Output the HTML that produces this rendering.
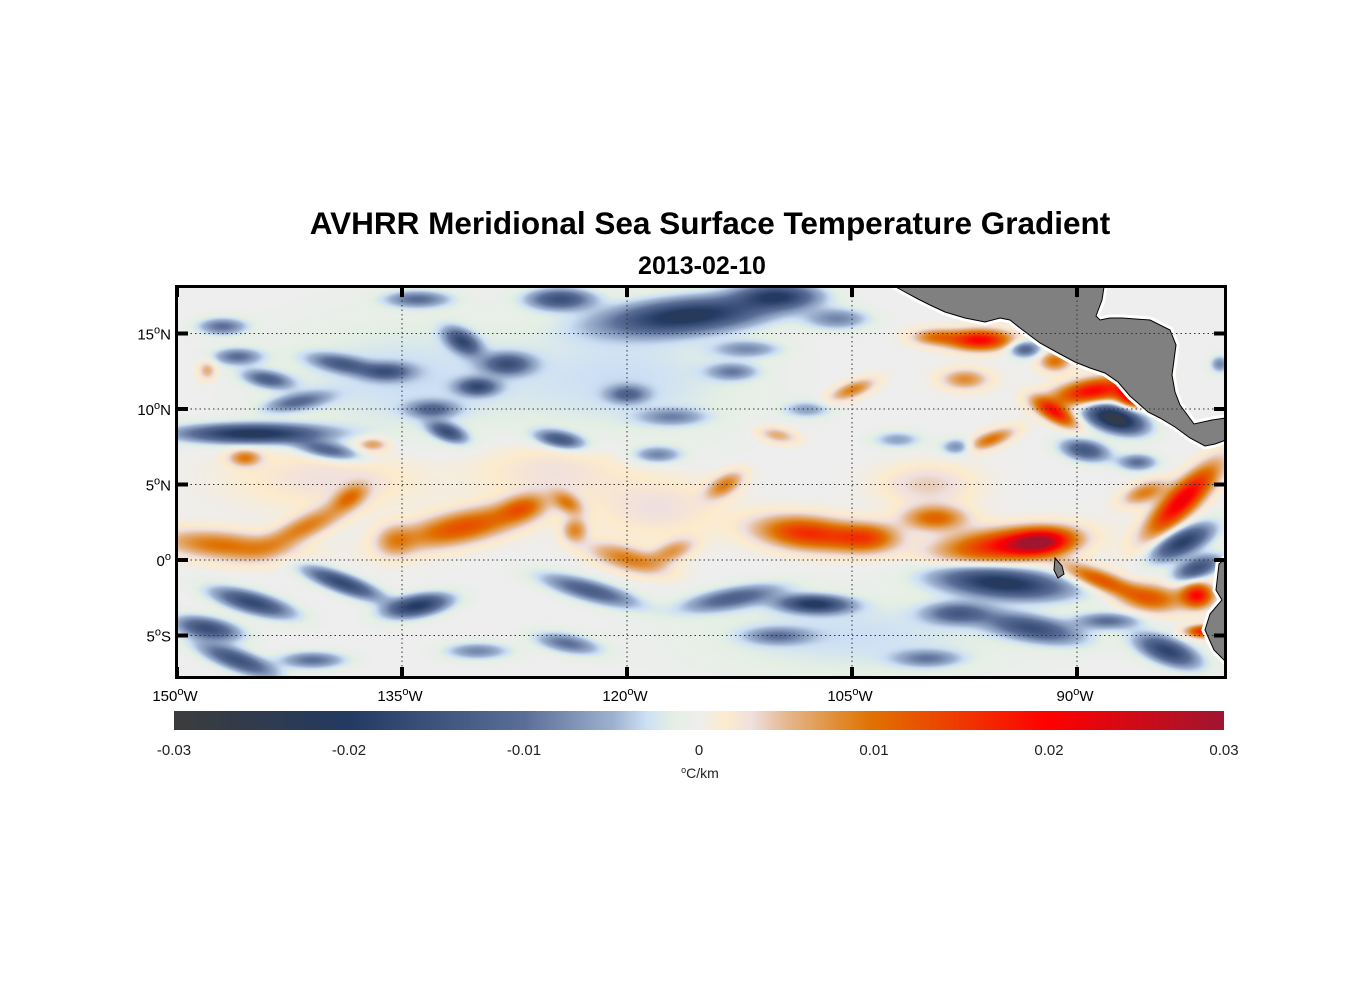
<!DOCTYPE html>
<html><head><meta charset="utf-8">
<style>
html,body{margin:0;padding:0;background:#fff;}
#wrap{position:relative;width:1356px;height:1000px;overflow:hidden;font-family:"Liberation Sans",Arial,sans-serif;}
.t{position:absolute;white-space:nowrap;color:#000;}
</style></head>
<body>
<div id="wrap">
<div class="t" style="left:0;width:1420px;text-align:center;top:205px;font-size:31.5px;font-weight:bold;">AVHRR Meridional Sea Surface Temperature Gradient</div>
<div class="t" style="left:0;width:1404px;text-align:center;top:252px;font-size:25px;font-weight:bold;">2013-02-10</div>
<canvas id="map" width="1050" height="392" style="position:absolute;left:176px;top:286px;"></canvas>
<svg id="ov" width="1356" height="1000" style="position:absolute;left:0;top:0;"></svg>
<canvas id="cb" width="1050" height="19" style="position:absolute;left:174px;top:711px;"></canvas>
</div>
<script>
// Data: features of the gradient field (lon in degrees W, lat in degrees N, value in °C/km)
const featLon = [147,141.5,138.5,135.5,131,127,124,123.5,120,117,113.5,108,104,99.5,95,92.5,88.5,85,82,81.5,83,85.5,96.5,99.5,89,86.2,91.5,95.8,97.5,105,145.5,137,148,110,91.5,100,140,125,118,
 145,140,132,116,124.5,131,128,130,124.5,139,147,134,142,145,139,134,148,146,141,124,122.5,113,107,95,93,88,84,83,87.5,89.5,93.5,98,117,112,120,106,80.5,100,120,135,105,110,108,
 144,146,136,133,118,108,102,113,98,110,130,86,82];
const featLat = [1.0,2.2,4.2,1.3,2.2,3.5,3.8,2,0.1,0.6,5,1.8,1.5,2.8,1,1.2,-1.3,-2.5,-2.3,-4.7,4,4.5,14.6,14.8,11.2,11.0,9.8,8,12,11.3,6.8,7.7,12.6,8.3,13.2,5,5.5,6,3.5,
 8.4,7.3,8.5,16.2,17.3,14.5,13,11.5,8,13,15.5,17.3,10.5,-2.8,-1.5,-3,-4.5,-6.6,-6.6,-5.5,-2,-2.5,-3,-1.5,-4.5,-4,-6,1.2,9.4,7.3,14,7.5,9.5,14,11,16,13,-6.5,12,12,-5,17.5,-2.8,
 12,13.5,12.5,10,7,10,8,12.5,-3.5,-5,-6,6.5,-0.5];
const featVal = [0.010,0.009,0.008,0.006,0.013,0.009,0.008,0.008,0.009,0.007,0.009,0.016,0.012,0.011,0.017,0.022,0.013,0.011,0.019,0.018,0.022,0.009,0.02,0.009,0.02,0.027,0.018,0.01,0.008,0.009,0.009,0.007,0.006,0.006,0.01,0.004,0.003,0.003,0.003,
 -0.022,-0.012,-0.015,-0.022,-0.015,-0.016,-0.014,-0.015,-0.014,-0.012,-0.01,-0.01,-0.01,-0.017,-0.017,-0.02,-0.016,-0.015,-0.01,-0.01,-0.013,-0.012,-0.01,-0.022,-0.015,-0.01,-0.018,-0.019,-0.028,-0.014,-0.012,-0.008,-0.007,-0.007,-0.01,-0.008,-0.008,-0.008,-0.003,-0.003,-0.003,-0.018,-0.012,
 -0.012,-0.01,-0.012,-0.01,-0.008,-0.006,-0.006,-0.008,-0.012,-0.008,-0.008,-0.01,-0.015];
const featLen = [4,3,1.2,1.2,4,1.5,0.6,0.8,2.5,1.5,1.3,3.2,2,2,4,2,2.5,2,1,0.4,3,1.5,2,1.5,2.5,1,1.5,1.6,1.5,1.5,1,1,0.6,1.3,1,3,6,5,4,
 4.5,2,1.2,5,2,1.2,1.5,1.2,1.5,2,1.5,2,2,2.5,2.5,2,2,2.5,2,2,3,3,2,4,3,2,2,2,1.8,1.5,1,1,2,2,1.2,2,0.6,2,8,8,10,2.5,2,
 1.5,1.5,1.5,1.5,1.5,1.5,1.5,1.5,2,2,2,1.2,1.5];
const featWid = [0.7,0.6,0.5,0.8,0.8,0.6,0.8,0.6,0.6,0.5,0.5,0.8,0.7,0.6,0.8,0.6,0.5,0.7,0.6,0.9,0.7,0.5,0.5,0.4,0.6,0.6,0.45,0.4,0.5,0.4,0.4,0.35,0.5,0.4,0.5,1,1.5,1.5,1.5,
 0.45,0.4,0.4,0.8,0.5,0.5,0.5,0.4,0.4,0.4,0.4,0.4,0.4,0.5,0.45,0.5,0.5,0.5,0.4,0.45,0.5,0.5,0.4,0.7,0.6,0.4,0.6,0.6,0.6,0.5,0.4,0.4,0.4,0.4,0.4,0.5,0.4,0.4,3,3,2,0.6,0.4,
 0.4,0.4,0.4,0.4,0.4,0.4,0.4,0.4,0.5,0.4,0.4,0.4,0.5];
const featAng = [-5,25,30,0,12,15,60,0,-15,20,30,-5,0,0,5,5,-20,-5,0,90,45,20,0,0,10,0,-30,20,0,20,0,0,0,-10,0,0,0,0,0,
 0,-10,-20,5,0,-30,0,0,-10,-10,0,0,10,-15,-20,10,-10,-20,0,-10,-15,10,0,-5,-10,0,-20,25,-15,-10,0,0,0,0,0,0,0,0,0,0,0,0,0,
 -10,0,0,0,0,0,0,0,0,0,0,0,20];
// Colormap
const cmapVal = [-0.03,-0.02,-0.01,-0.005,-0.003,-0.0015,0,0.0015,0.003,0.005,0.008,0.01,0.02,0.03];
const cmapCol = ["#3c3c3c","#233a62","#5a6e98","#9cb0cf","#cde0f5","#e4efe4","#eeeeee","#fdebcc","#efe0df","#e5b890","#e08c30","#e07000","#ff0000","#a01530"];
const lonTicks = [150,135,120,105,90];
const latTicks = [15,10,5,0,-5];
const cbTicks = [-0.03,-0.02,-0.01,0,0.01,0.02,0.03];

const X0=177, Y0=560, PXD=15, PYD=15.1, WSCALE=1.3;
const xOf = lonW => X0 + (150-lonW)*PXD;
const yOf = lat => Y0 - lat*PYD;
function hex(h){return [parseInt(h.slice(1,3),16),parseInt(h.slice(3,5),16),parseInt(h.slice(5,7),16)];}
const cmapRGB = cmapCol.map(hex);
function color(v){
  if(v<=cmapVal[0]) return cmapRGB[0];
  for(let i=1;i<cmapVal.length;i++){ if(v<=cmapVal[i]){const t=(v-cmapVal[i-1])/(cmapVal[i]-cmapVal[i-1]);const a=cmapRGB[i-1],b=cmapRGB[i];return [a[0]+(b[0]-a[0])*t,a[1]+(b[1]-a[1])*t,a[2]+(b[2]-a[2])*t];}}
  return cmapRGB[cmapRGB.length-1];
}
// heatmap
(function(){
  const c=document.getElementById('map'),ctx=c.getContext('2d');
  const W=c.width,H=c.height,img=ctx.createImageData(W,H);
  const n=featLon.length, cs=[],sn=[];
  for(let k=0;k<n;k++){const a=featAng[k]*Math.PI/180;cs.push(Math.cos(a));sn.push(Math.sin(a));}
  for(let py=0;py<H;py++){
    const lat=(Y0-(286+py))/PYD;
    for(let px=0;px<W;px++){
      const e=((176+px)-X0)/PXD-150;
      let v=0;
      for(let k=0;k<n;k++){
        const dx=e+featLon[k], dy=lat-featLat[k];
        if(Math.abs(dx)>featLen[k]*3+1||Math.abs(dy)>featLen[k]*3+1) continue;
        const u=dx*cs[k]+dy*sn[k], w=-dx*sn[k]+dy*cs[k];
        const ww=featWid[k]*WSCALE;
        v+=featVal[k]*Math.exp(-(u*u/(featLen[k]*featLen[k])+w*w/(ww*ww)));
      }
      const col=color(v), i=(py*W+px)*4;
      img.data[i]=col[0];img.data[i+1]=col[1];img.data[i+2]=col[2];img.data[i+3]=255;
    }
  }
  ctx.putImageData(img,0,0);
})();
// colorbar
(function(){
  const c=document.getElementById('cb'),ctx=c.getContext('2d');
  for(let px=0;px<c.width;px++){const v=-0.03+0.06*px/(c.width-1);const col=color(v);ctx.fillStyle='rgb('+col.map(Math.round).join(',')+')';ctx.fillRect(px,0,1,c.height);}
})();
// overlay
(function(){
  const svg=document.getElementById('ov'),NS='http://www.w3.org/2000/svg';
  function mk(tag,attrs,name){const el=document.createElementNS(NS,tag);for(const k in attrs)el.setAttribute(k,attrs[k]);
    
    
    svg.appendChild(el);return el;}
  const ca='896,287 905,292 918,299 930,305 945,312 965,318 985,322 1000,318 1010,320 1020,328 1040,343 1060,354 1075,362 1090,368 1105,373 1118,382 1130,396 1138,403 1148,412 1160,418 1175,427 1190,438 1205,446 1215,444 1226,440 1226,418 1212,420 1194,424 1180,405 1175,392 1172,375 1176,345 1170,330 1150,320 1122,318 1110,318 1100,320 1096,316 1102,300 1104,287';
  mk('polygon',{points:ca,fill:'#808080',stroke:'#fff','stroke-width':7},'central-america-land-halo');
  mk('polygon',{points:ca,fill:'#808080',stroke:'#000','stroke-width':1},'central-america-land');
  const sa='1226,558 1219,564 1216,590 1222,600 1210,614 1205,630 1214,650 1226,662';
  mk('polygon',{points:sa,fill:'#808080',stroke:'#fff','stroke-width':7},'south-america-land-halo');
  mk('polygon',{points:sa,fill:'#808080',stroke:'#000','stroke-width':1},'south-america-land');
  mk('polygon',{points:'1055,558 1062,566 1064,574 1058,578 1054,570',fill:'#808080',stroke:'#000','stroke-width':1},'galapagos-island');
  lonTicks.forEach(l=>{const x=xOf(l);
    mk('line',{x1:x,y1:287,x2:x,y2:677,stroke:'#333','stroke-width':1,'stroke-dasharray':'1.5,3'},'lon-gridline');
    mk('line',{x1:x,y1:287,x2:x,y2:297,stroke:'#000','stroke-width':4},'lon-tick-top');
    mk('line',{x1:x,y1:667,x2:x,y2:677,stroke:'#000','stroke-width':4},'lon-tick-bottom');
    const t=mk('text',{x:x-2,y:701,'text-anchor':'middle','font-size':15,'font-family':'Liberation Sans, Arial, sans-serif'},'lon-tick-label');
    t.innerHTML=l+'<tspan dy="-6" font-size="11">o</tspan><tspan dy="6">W</tspan>';
  });
  latTicks.forEach(l=>{const y=yOf(l);
    mk('line',{x1:177,y1:y,x2:1225,y2:y,stroke:'#333','stroke-width':1,'stroke-dasharray':'1.5,3'},'lat-gridline');
    mk('line',{x1:177,y1:y,x2:188,y2:y,stroke:'#000','stroke-width':4},'lat-tick-left');
    mk('line',{x1:1214,y1:y,x2:1225,y2:y,stroke:'#000','stroke-width':4},'lat-tick-right');
    const t=mk('text',{x:171,y:y+6,'text-anchor':'end','font-size':15,'font-family':'Liberation Sans, Arial, sans-serif'},'lat-tick-label');
    const suf=l>0?'N':(l<0?'S':'');
    t.innerHTML=Math.abs(l)+'<tspan dy="-6" font-size="11">o</tspan><tspan dy="6">'+suf+'</tspan>';
  });
  mk('rect',{x:176.5,y:286.5,width:1049,height:391,fill:'none',stroke:'#000','stroke-width':3},'map-frame');
  mk('rect',{x:174.5,y:711.5,width:1049,height:18,fill:'none',stroke:'#222','stroke-width':1},'colorbar-frame');
  cbTicks.forEach(v=>{const x=174+(v+0.03)/0.06*1050;
    if(v>-0.03&&v<0.03) mk('line',{x1:x,y1:720,x2:x,y2:730,stroke:'#222','stroke-width':1},'colorbar-tick');
    const t=mk('text',{x:x,y:755,'text-anchor':'middle','font-size':15,fill:'#222','font-family':'Liberation Sans, Arial, sans-serif'},'colorbar-tick-label');
    t.textContent=(v===0?'0':v.toFixed(2));
  });
  const u=mk('text',{x:700,y:778,'text-anchor':'middle','font-size':14,fill:'#222','font-family':'Liberation Sans, Arial, sans-serif'},'colorbar-unit-label');
  u.innerHTML='<tspan dy="-5" font-size="9">o</tspan><tspan dy="5">C/km</tspan>';
})();
</script>
</body></html>
